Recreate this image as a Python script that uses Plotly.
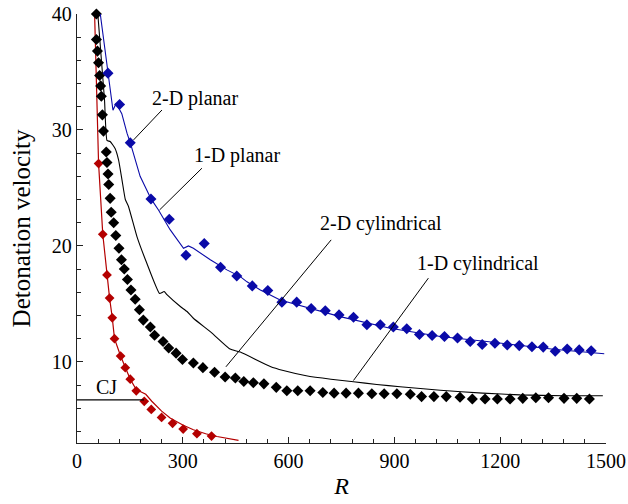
import plotly.graph_objects as go

# ---- data: detonation velocity vs R ----
# 2-D planar (symbols)
r_2d_planar = [87.8, 120.7, 151, 209.7, 261.6, 309, 360.8, 407, 453, 497, 541, 581, 623, 664,
               704, 743, 784, 822, 860, 897, 935, 971, 1007, 1042, 1079, 1115, 1149, 1185,
               1220, 1254, 1290, 1322, 1356, 1390, 1424, 1458]
v_2d_planar = [34.9, 32.2, 28.9, 24.05, 22.3, 19.2, 20.2, 18.15, 17.4, 16.55, 16.15, 15.15, 15.15, 14.6,
               14.4, 14.05, 13.85, 13.2, 13.2, 13.0, 12.85, 12.35, 12.27, 12.18, 12.05, 11.75, 11.5, 11.6,
               11.45, 11.4, 11.3, 11.27, 10.92, 11.1, 11.03, 10.95]

# 1-D planar (curve)
r_1d_planar = [66, 85, 99, 102, 111, 127, 142, 151, 179, 210, 231, 264, 302, 316, 330, 378, 425,
               463, 482, 520, 576, 660, 746, 888, 973, 1030, 1162, 1351, 1495]
v_1d_planar = [40, 35.5, 32.6, 31.7, 32.3, 31.4, 29.7, 28.9, 26.0, 24.05, 23.1, 21.4, 19.8, 20.0, 19.8,
               18.8, 17.93, 17.35, 16.9, 16.2, 15.34, 14.6, 13.9, 12.9, 12.47, 12.18, 11.75, 11.09, 10.7]

# 2-D cylindrical (symbols)
r_2d_cyl = [55, 55, 58, 61, 64, 67, 69, 72, 75, 83, 85, 88, 90, 94, 97, 104, 110, 119, 126, 134, 143,
            153, 165, 177, 188, 208, 220, 244, 260, 281, 299, 330, 357, 390, 420, 449, 473, 500, 530,
            565, 595, 626, 661, 697, 729, 763, 798, 836, 871, 907, 945, 977, 1012, 1047, 1086, 1121,
            1157, 1192, 1228, 1264, 1301, 1337, 1381, 1417, 1453]
v_2d_cyl = [40, 37.8, 36.8, 35.8, 34.7, 33.8, 32.9, 31.3, 29.9, 28.1, 27.2, 26.2, 25.3, 24.1, 22.9, 22.0,
            20.9, 19.8, 18.8, 18.0, 17.1, 16.2, 15.4, 14.5, 13.6, 13.0, 12.3, 11.75, 11.2, 10.75, 10.2,
            9.9, 9.5, 9.1, 8.7, 8.6, 8.3, 8.2, 8.1, 7.8, 7.5, 7.5, 7.5, 7.35, 7.3, 7.3, 7.3, 7.25, 7.25,
            7.25, 7.2, 7.0, 7.0, 7.0, 6.95, 6.8, 6.8, 6.8, 6.8, 6.85, 6.9, 6.9, 6.85, 6.85, 6.8]

# 1-D cylindrical (curve)
r_1d_cyl = [59, 78, 85, 94, 108, 118, 127.5, 137, 146, 170, 198, 234, 247, 255, 293, 312, 330, 382,
            434, 463, 548, 585, 650, 720, 784, 850, 916, 1030, 1150, 1256, 1380, 1491]
v_1d_cyl = [40, 32.6, 29.1, 29.0, 28.4, 27.4, 25.7, 24.0, 23.4, 20.8, 18.5, 15.9, 16.06, 15.8, 14.77,
            14.34, 13.76, 12.5, 11.1, 10.84, 9.6, 9.25, 8.8, 8.5, 8.28, 8.05, 7.85, 7.55, 7.3, 7.15,
            7.08, 7.07]

# third case (red): symbols and curve
r_red_pts = [61.2, 73.1, 85, 92.4, 100, 106.3, 123.6, 136.9, 151, 168, 190.7, 210.6, 239.8, 271,
             301, 340, 381.5]
v_red_pts = [27.1, 21.0, 17.5, 15.5, 13.8, 12.0, 10.5, 9.5, 8.5, 7.5, 6.6, 5.9, 5.2, 4.7, 4.2, 3.8, 3.6]

r_red_line = [49.9, 61.2, 73.1, 85, 92.4, 100, 106.3, 123.6, 136.9, 151, 168, 184, 195, 212, 240,
              264, 300, 330, 365, 397, 430, 458]
v_red_line = [40, 27.1, 21, 17.5, 15.5, 13.8, 12.0, 10.5, 9.5, 8.5, 7.6, 7.4, 7.2, 6.6, 5.75, 5.15,
              4.55, 4.14, 3.8, 3.56, 3.38, 3.22]

# Chapman-Jouguet level
cj_value = 6.72
cj_r = [0, 190]

BLUE = "#0a0aa8"
RED = "#b40000"
BLACK = "#000000"
FONT = "Liberation Serif"

fig = go.Figure()

fig.add_trace(go.Scatter(x=r_red_line, y=v_red_line, mode="lines",
                         line=dict(color=RED, width=1.2), cliponaxis=False))
fig.add_trace(go.Scatter(x=r_red_pts, y=v_red_pts, mode="markers",
                         marker=dict(symbol="diamond", size=7.5, color=RED), cliponaxis=False))
fig.add_trace(go.Scatter(x=r_1d_cyl, y=v_1d_cyl, mode="lines",
                         line=dict(color=BLACK, width=1.1, shape="spline", smoothing=0.4),
                         cliponaxis=False))
fig.add_trace(go.Scatter(x=r_2d_cyl, y=v_2d_cyl, mode="markers",
                         marker=dict(symbol="diamond", size=8.5, color=BLACK), cliponaxis=False))
fig.add_trace(go.Scatter(x=r_1d_planar, y=v_1d_planar, mode="lines",
                         line=dict(color=BLUE, width=1.1), cliponaxis=False))
fig.add_trace(go.Scatter(x=r_2d_planar, y=v_2d_planar, mode="markers",
                         marker=dict(symbol="diamond", size=8.5, color=BLUE), cliponaxis=False))
fig.add_trace(go.Scatter(x=cj_r, y=[cj_value, cj_value], mode="lines",
                         line=dict(color=BLACK, width=1.1), cliponaxis=False))

# labels with leader lines (data coordinates)
labels = [
    ("2-D planar", 335, 32.67, [(240.9, 31.72), (160.4, 29.14)]),
    ("1-D planar", 454, 27.76, [(354.2, 26.7), (234.1, 23.1)]),
    ("2-D cylindrical", 861, 21.9, [(720.7, 20.52), (422.3, 9.57)]),
    ("1-D cylindrical", 1136, 18.45, [(996.4, 17.22), (783.9, 8.39)]),
    ("CJ", 83, 7.8, None),
]
for text, lx, ly, leader in labels:
    fig.add_annotation(x=lx, y=ly, text=text, showarrow=False,
                       font=dict(family=FONT, size=20, color=BLACK))
    if leader:
        (x0, y0), (x1, y1) = leader
        fig.add_shape(type="line", x0=x0, y0=y0, x1=x1, y1=y1,
                      line=dict(color=BLACK, width=1))

axis_common = dict(
    showline=True, linecolor="#222", linewidth=1.3, mirror=False,
    ticks="inside", ticklen=6, tickwidth=1.2, tickcolor="#222",
    showgrid=False, zeroline=False,
    tickfont=dict(family=FONT, size=20, color=BLACK),
)

fig.update_xaxes(range=[0, 1500], tick0=0, dtick=300,
                 minor=dict(dtick=60, ticks="inside", ticklen=4, tickcolor="#222", tickwidth=1),
                 title=dict(text="<i>R</i>", font=dict(family=FONT, size=24, color=BLACK), standoff=6),
                 **axis_common)
fig.update_yaxes(range=[3, 40], tick0=0, dtick=10,
                 minor=dict(dtick=2, ticks="inside", ticklen=4, tickcolor="#222", tickwidth=1),
                 title=dict(text="Detonation velocity", font=dict(family=FONT, size=25, color=BLACK),
                            standoff=14),
                 **axis_common)

fig.update_layout(
    width=628, height=504,
    margin=dict(l=77, r=22, t=14, b=61, autoexpand=False),
    plot_bgcolor="white", paper_bgcolor="white",
    showlegend=False,
    font=dict(family=FONT, color=BLACK),
)

fig.write_html("out.html")
